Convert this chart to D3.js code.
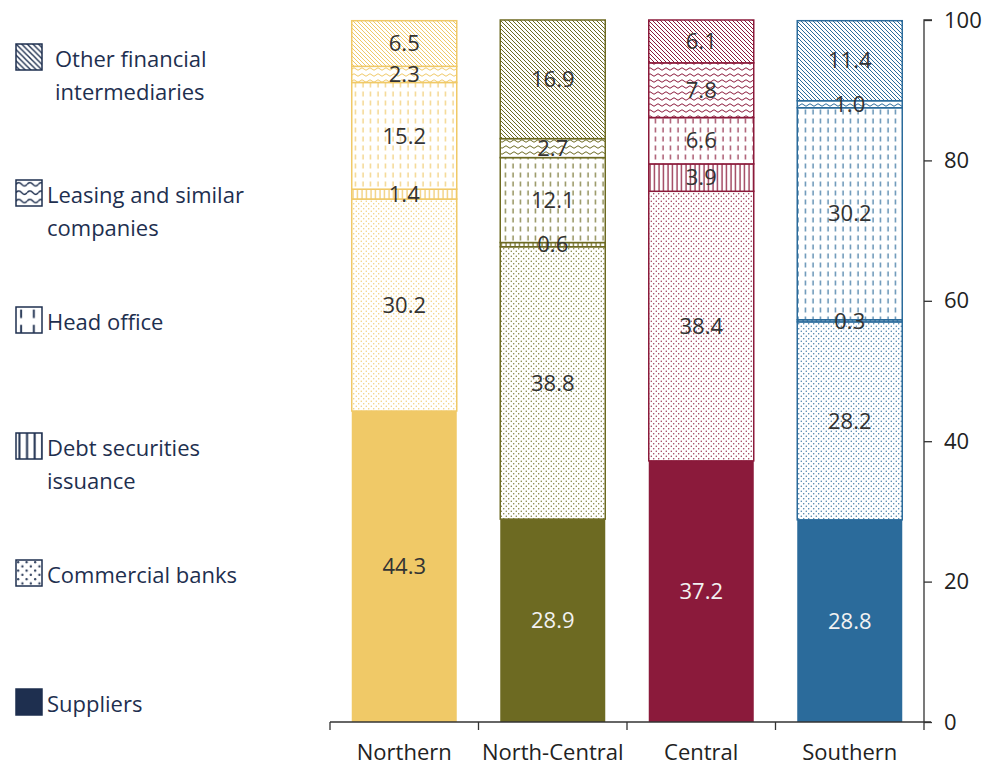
<!DOCTYPE html>
<html>
<head>
<meta charset="utf-8">
<script src="https://cdn.jsdelivr.net/npm/d3@7"></script>
<style>
  body { margin: 0; background: #fff; }
  text { font-family: "Open Sans", "Noto Sans", sans-serif; }
</style>
</head>
<body>
<div id="chart"></div>
<script>
// regions and sources (bottom to top)
var regions = ["Northern", "North-Central", "Central", "Southern"];
var sources = ["Suppliers", "Commercial banks", "Debt securities issuance", "Head office", "Leasing and similar companies", "Other financial intermediaries"];
var regionColors = ["#f0c967", "#6d6a22", "#8b1a3b", "#2b6b9b"];

var northern     = [44.3, 30.2, 1.4, 15.2, 2.3, 6.5];
var northCentral = [28.9, 38.8, 0.6, 12.1, 2.7, 16.9];
var central      = [37.2, 38.4, 3.9, 6.6, 7.8, 6.1];
var southern     = [28.8, 28.2, 0.3, 30.2, 1.0, 11.4];
var seriesValues = [northern, northCentral, central, southern];

var yTicks = [0, 20, 40, 60, 80, 100];

// legend text split in lines
var legendLines = [
	["Other financial", "intermediaries"],
	["Leasing and similar", "companies"],
	["Head office"],
	["Debt securities", "issuance"],
	["Commercial banks"],
	["Suppliers"]
];

var width = 988,
    height = 768,
    navy = "#1e2f4f";

var svg = d3.select("#chart").append("svg")
	.attr("width", width)
	.attr("height", height);

var defs = svg.append("defs");

/* pattern builders, one per source (index 1..5) */
var makePattern = function(id, k, color, scale) {
	var p = defs.append("pattern")
		.attr("id", id)
		.attr("patternUnits", "userSpaceOnUse");
	if (scale) p.attr("patternTransform", "scale(" + scale + ")");
	if (k == 1) { // dots
		p.attr("width", 5).attr("height", 5);
		p.append("rect").attr("width", 5).attr("height", 5).attr("fill", "#fff");
		p.append("circle").attr("cx", 1.25).attr("cy", 1.25).attr("r", 0.65).attr("fill", color);
		p.append("circle").attr("cx", 3.75).attr("cy", 3.75).attr("r", 0.65).attr("fill", color);
	} else if (k == 2) { // vertical lines
		p.attr("width", 4.5).attr("height", 10);
		p.append("rect").attr("width", 4.5).attr("height", 10).attr("fill", "#fff");
		p.append("line").attr("x1", 2).attr("x2", 2).attr("y1", 0).attr("y2", 10)
			.attr("stroke", color).attr("stroke-width", 1.2);
	} else if (k == 3) { // dashed vertical
		p.attr("width", 7.5).attr("height", 9);
		p.append("rect").attr("width", 7.5).attr("height", 9).attr("fill", "#fff");
		p.append("line").attr("x1", 3).attr("x2", 3).attr("y1", 1.5).attr("y2", 6.5)
			.attr("stroke", color).attr("stroke-width", 1.1);
	} else if (k == 4) { // waves
		p.attr("width", 8).attr("height", 6);
		p.append("rect").attr("width", 8).attr("height", 6).attr("fill", "#fff");
		p.append("path").attr("d", "M0,3 Q2,0.5 4,3 T8,3")
			.attr("fill", "none").attr("stroke", color).attr("stroke-width", 1);
	} else if (k == 5) { // diagonal
		p.attr("width", 4).attr("height", 4);
		p.append("rect").attr("width", 4).attr("height", 4).attr("fill", "#fff");
		p.append("path").attr("d", "M-1,-1 L5,5 M-1,3 L1,5 M3,-1 L5,1")
			.attr("stroke", color).attr("stroke-width", 1);
	}
};

regionColors.forEach(function(c, i) {
	for (var k = 1; k < sources.length; k++) makePattern("p" + i + "_" + k, k, c);
});
for (var k = 1; k < sources.length; k++) makePattern("leg_" + k, k, navy, k == 5 || k == 4 ? 1.4 : 1.7);

var fillFor = function(i, k) {
	return k == 0 ? regionColors[i] : "url(#p" + i + "_" + k + ")";
};

/* scales */
var x = d3.scaleBand()
	.domain(regions)
	.range([330, 924])
	.padding(0);

var barWidth = 105;

var y = d3.scaleLinear()
	.domain([0, 100])
	.range([722, 20]);

/* stacked segments */
var stacked = regions.map(function(r, i) {
	var acc = 0;
	return seriesValues[i].map(function(v, k) {
		var seg = { region: r, ri: i, k: k, value: v, y0: acc, y1: acc + v };
		acc += v;
		return seg;
	});
});

var bars = svg.append("g").selectAll("g")
	.data(stacked)
	.enter().append("g");

bars.selectAll("rect")
	.data(function(d) { return d; })
	.enter().append("rect")
		.attr("x", function(d) { return x(d.region) + (x.bandwidth() - barWidth) / 2; })
		.attr("width", barWidth)
		.attr("y", function(d) { return y(d.y1); })
		.attr("height", function(d) { return y(d.y0) - y(d.y1); })
		.attr("fill", function(d) { return fillFor(d.ri, d.k); })
		.attr("stroke", function(d) { return regionColors[d.ri]; })
		.attr("stroke-width", function(d) { return d.k == 0 ? 0 : 1.5; });

bars.selectAll("text")
	.data(function(d) { return d; })
	.enter().append("text")
		.attr("x", function(d) { return x(d.region) + x.bandwidth() / 2; })
		.attr("y", function(d) { return y((d.y0 + d.y1) / 2); })
		.attr("dy", "0.35em")
		.attr("text-anchor", "middle")
		.attr("font-size", 22)
		.attr("fill", function(d) { return (d.k == 0 && d.ri > 0) ? "#f2f2f2" : "#333"; })
		.text(function(d) { return d3.format(".1f")(d.value); });

/* x axis */
var xAxis = svg.append("g").attr("transform", "translate(0," + y(0) + ")");
xAxis.append("line")
	.attr("x1", 330).attr("x2", 931)
	.attr("stroke", "#333").attr("stroke-width", 1.3);
xAxis.selectAll(".xt")
	.data(regions.concat([null]))
	.enter().append("line")
		.attr("x1", function(d) { return d ? x(d) : x.range()[1]; })
		.attr("x2", function(d) { return d ? x(d) : x.range()[1]; })
		.attr("y1", 0).attr("y2", 8)
		.attr("stroke", "#333").attr("stroke-width", 1.3);
xAxis.selectAll(".xl")
	.data(regions)
	.enter().append("text")
		.attr("x", function(d) { return x(d) + x.bandwidth() / 2; })
		.attr("y", 38)
		.attr("text-anchor", "middle")
		.attr("font-size", 22)
		.attr("fill", "#222")
		.text(function(d) { return d; });

/* y axis on the right */
var yAxis = svg.append("g")
	.attr("transform", "translate(" + x.range()[1] + ",0)")
	.call(d3.axisRight(y).tickValues(yTicks).tickSize(8).tickPadding(12));
yAxis.select(".domain").attr("stroke", "#333").attr("stroke-width", 1.3).attr("d", "M8," + y(100) + "H0V" + y(0));
yAxis.selectAll(".tick line").attr("stroke", "#333").attr("stroke-width", 1.3);
yAxis.selectAll(".tick text")
	.attr("font-size", 22)
	.attr("font-family", "Open Sans, sans-serif")
	.attr("fill", "#222");

/* legend */
var legendTop = [44, 180, 307, 433, 560, 689];
var legend = svg.append("g").selectAll("g")
	.data(legendLines)
	.enter().append("g")
		.attr("transform", function(d, i) { return "translate(16," + legendTop[i] + ")"; });

legend.append("rect")
	.attr("width", 26)
	.attr("height", 26)
	.attr("fill", function(d, i) { var k = sources.length - 1 - i; return k == 0 ? navy : "url(#leg_" + k + ")"; })
	.attr("stroke", navy)
	.attr("stroke-width", 1.5);

legend.append("text")
	.attr("x", function(d, i) { return i == 0 ? 39 : 31; })
	.attr("y", 23)
	.attr("font-size", 22)
	.attr("fill", navy)
	.selectAll("tspan")
	.data(function(d) { return d; })
	.enter().append("tspan")
		.attr("x", function(d, j, nodes) { return d3.select(nodes[j].parentNode).attr("x"); })
		.attr("dy", function(d, j) { return j == 0 ? 0 : 33; })
		.text(function(d) { return d; });
</script>
</body>
</html>
